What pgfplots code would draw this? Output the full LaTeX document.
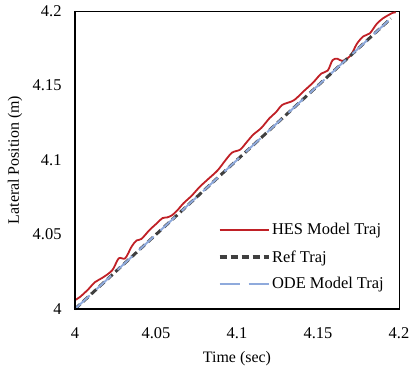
\documentclass[border=0pt]{standalone}
\usepackage{pgfplots}
\pgfplotsset{compat=1.18}
\usepackage{fontspec}
\setmainfont{Liberation Serif}
\definecolor{hesred}{RGB}{192,32,38}
\definecolor{refgray}{RGB}{64,64,64}
\definecolor{odeblue}{RGB}{143,170,220}
\begin{document}
\begin{tikzpicture}
\useasboundingbox (0,0) rectangle (409bp,368bp);
\begin{axis}[
  at={(75bp,59bp)}, anchor=south west,
  scale only axis, width=324bp, height=298bp,
  xmin=4, xmax=4.2, ymin=4, ymax=4.2,
  xtick={4,4.05,4.1,4.15,4.2}, ytick={4,4.05,4.1,4.15,4.2},
  xticklabels={4,4.05,4.1,4.15,4.2}, yticklabels={4,4.05,4.1,4.15,4.2},
  major tick length=0pt,
  axis line style={line width=0.8bp, black},
  every tick label/.append style={font=\fontsize{16.5}{19}\selectfont, text=black},
  xticklabel style={yshift=-15bp},
  yticklabel style={xshift=-10bp},
  xlabel={Time (sec)}, ylabel={Lateral Position (m)},
  label style={font=\fontsize{16}{19}\selectfont},
  xlabel style={at={(0.5,0)}, anchor=center, yshift=-50bp},
  ylabel style={at={(0,0.5)}, anchor=center, yshift=60bp},
  legend cell align=left,
  legend style={at={(0.441,0.055)}, anchor=south west, draw=none, fill=none, inner sep=0pt,
    font=\fontsize{16.5}{19}\selectfont, row sep=10bp,
    /tikz/every even column/.append style={column sep=2bp}},
  legend image code/.code={\draw[#1] (0bp,0bp) -- (49bp,0bp);},
  clip=false,
]
\addplot[hesred, line width=1.8bp, smooth, tension=0.5] coordinates {
(4.000,4.006)(4.003,4.008)(4.008,4.013)(4.0123,4.018)(4.017,4.021)(4.023,4.026)
(4.027,4.034)(4.031,4.034)(4.035,4.042)(4.038,4.046)(4.041,4.047)(4.046,4.053)
(4.051,4.058)(4.054,4.061)(4.057,4.0615)(4.060,4.063)(4.063,4.066)(4.067,4.071)
(4.072,4.076)(4.077,4.082)(4.082,4.087)(4.088,4.093)(4.093,4.100)(4.097,4.105)
(4.102,4.107)(4.106,4.112)(4.110,4.117)(4.115,4.1215)(4.120,4.128)(4.124,4.132)
(4.128,4.137)(4.135,4.140)(4.141,4.146)(4.147,4.152)(4.152,4.158)(4.156,4.160)
(4.159,4.167)(4.162,4.168)(4.165,4.1665)(4.170,4.170)(4.174,4.178)(4.178,4.183)
(4.182,4.185)(4.186,4.191)(4.190,4.195)(4.196,4.1987)(4.198,4.199)
};
\addlegendentry{HES Model Traj}
\addplot[refgray, line width=3bp, dash pattern=on 7bp off 4bp] coordinates {(4,4)(4.195,4.195)};
\addlegendentry{Ref Traj}
\addplot[odeblue, line width=2bp, dash pattern=on 20bp off 9bp] coordinates {(4,4)(4.195,4.195)};
\addlegendentry{ODE Model Traj}
\end{axis}
\draw[line width=1.8bp, black] (75bp,368bp-11bp) -- (75bp,59bp) -- (399bp,59bp);
\end{tikzpicture}
\end{document}
